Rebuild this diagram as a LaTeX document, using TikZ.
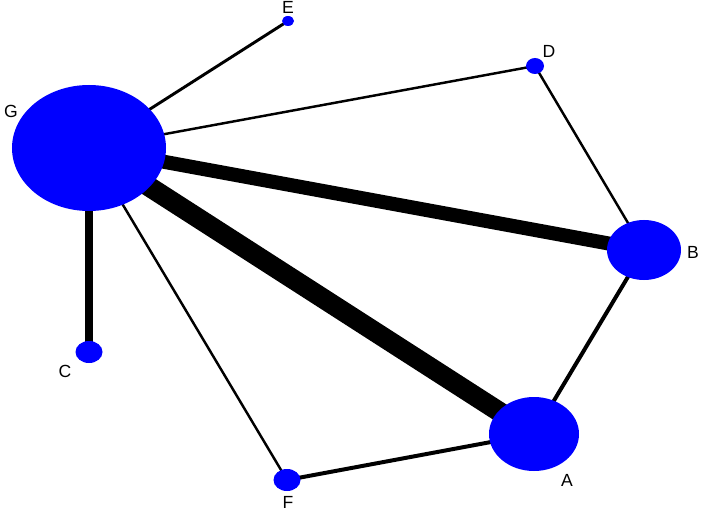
\documentclass[tikz,border=0pt]{standalone}
\usepackage{fontspec}
\setmainfont{Liberation Sans}
\usetikzlibrary{shapes.geometric}
\usetikzlibrary{backgrounds}

\begin{document}
\begin{tikzpicture}[x=0.03cm,y=-0.03cm,
  vert/.style={ellipse,fill=blue,inner sep=0pt},
  lbl/.style={font=\fontsize{15}{17}\selectfont,inner sep=0pt}]
\useasboundingbox (0,0) rectangle (702,512);
% vertices
\node[vert,minimum width=4.62cm,minimum height=3.78cm] (G) at (89,148) {};
\node[vert,minimum width=0.36cm,minimum height=0.3cm] (E) at (288,21) {};
\node[vert,minimum width=0.54cm,minimum height=0.48cm] (D) at (535,66) {};
\node[vert,minimum width=2.22cm,minimum height=1.8cm] (B) at (644,250) {};
\node[vert,minimum width=2.7cm,minimum height=2.22cm] (A) at (534,434) {};
\node[vert,minimum width=0.81cm,minimum height=0.66cm] (F) at (287,480) {};
\node[vert,minimum width=0.81cm,minimum height=0.66cm] (C) at (89,352) {};
% labels
\node[lbl] (lG) at (11,111) {G};
\node[lbl] (lE) at (288,7) {E};
\node[lbl] (lD) at (549,51) {D};
\node[lbl] (lB) at (693,252) {B};
\node[lbl] (lA) at (567,480) {A};
\node[lbl] (lF) at (288,502) {F};
\node[lbl] (lC) at (65,371) {C};
% edges
\begin{scope}[on background layer]
\draw[line width=2.5pt] (G.center) -- (E.center);
\draw[line width=2.1pt] (G.center) -- (D.center);
\draw[line width=12pt] (G.center) -- (B.center);
\draw[line width=17pt] (G.center) -- (A.center);
\draw[line width=6.8pt] (G.center) -- (C.center);
\draw[line width=2.1pt] (G.center) -- (F.center);
\draw[line width=2.1pt] (D.center) -- (B.center);
\draw[line width=3.4pt] (B.center) -- (A.center);
\draw[line width=3.4pt] (A.center) -- (F.center);
\end{scope}
\end{tikzpicture}
\end{document}
